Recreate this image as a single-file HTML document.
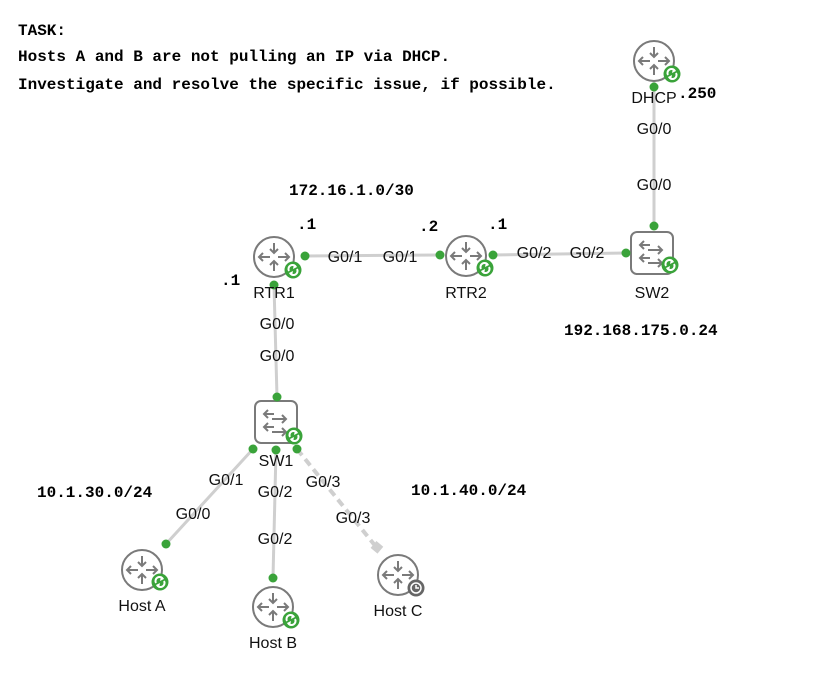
<!DOCTYPE html>
<html><head><meta charset="utf-8"><style>
body{margin:0;background:#fff;}
svg{display:block}
.m{font-family:"Liberation Mono",monospace;font-weight:bold;font-size:16px;fill:#000}
.s{font-family:"Liberation Sans",sans-serif;font-size:16px;fill:#111}
</style></head><body>
<svg width="839" height="686" viewBox="0 0 839 686" xmlns="http://www.w3.org/2000/svg">
<defs>
<g id="rt">
<circle r="20" fill="#fff" stroke="#7a7a7a" stroke-width="2"/>
<g stroke="#7a7a7a" stroke-width="2" fill="none">
<path d="M0,-14V-4M-4,-8L0,-4L4,-8"/>
<path d="M0,14V4M-4,8L0,4L4,8"/>
<path d="M-4,0H-15M-11,-4L-15,0L-11,4"/>
<path d="M4,0H15M11,-4L15,0L11,4"/>
</g>
</g>
<g id="sw">
<rect x="-21" y="-21" width="42" height="42" rx="6" fill="#fff" stroke="#7a7a7a" stroke-width="2"/>
<g stroke="#7a7a7a" stroke-width="2" fill="none">
<path d="M-12,-8H-2M-8,-12L-12,-8L-8,-4"/>
<path d="M-4,-3H10M6,-7L10,-3L6,1"/>
<path d="M-12,5H-2M-8,1L-12,5L-8,9"/>
<path d="M-4,10H10M6,6L10,10L6,14"/>
</g>
</g>
<g id="bg">
<circle r="8.5" fill="#3aa33a"/>
<path d="M-4,1A4,4 0 0 1 3,-3M4,-1A4,4 0 0 1 -3,3" stroke="#fff" stroke-width="2" fill="none"/>
<path d="M1,-6L4,-3L0,-1Z M-1,6L-4,3L0,1Z" fill="#fff"/>
</g>
</defs>
<text class="m" x="18" y="35">TASK:</text>
<text class="m" x="18" y="61">Hosts A and B are not pulling an IP via DHCP.</text>
<text class="m" x="18" y="89">Investigate and resolve the specific issue, if possible.</text>

<g stroke="#cfcfcf" stroke-width="3" fill="none">
<line x1="305" y1="256" x2="440" y2="255"/>
<line x1="493" y1="255" x2="626" y2="253"/>
<line x1="654" y1="80" x2="654" y2="226"/>
<line x1="274" y1="285" x2="277" y2="397"/>
<line x1="253" y1="449" x2="166" y2="544"/>
<line x1="276" y1="450" x2="273" y2="578"/>
<line x1="297" y1="449" x2="377" y2="548" stroke-dasharray="8,5" stroke-width="4"/>
</g>
<rect x="372" y="543" width="9" height="9" fill="#cfcfcf" transform="rotate(40 377 548)"/>

<use href="#rt" x="274" y="257"/><use href="#bg" x="293" y="270"/>
<use href="#rt" x="466" y="256"/><use href="#bg" x="485" y="268"/>
<use href="#sw" x="652" y="253"/><use href="#bg" x="670" y="265"/>
<use href="#rt" x="654" y="61"/><use href="#bg" x="672" y="74"/>
<use href="#sw" x="276" y="422"/><use href="#bg" x="294" y="436"/>
<use href="#rt" x="142" y="570"/><use href="#bg" x="160" y="582"/>
<use href="#rt" x="273" y="607"/><use href="#bg" x="291" y="620"/>
<use href="#rt" x="398" y="575"/>
<circle cx="416" cy="588" r="8.5" fill="#666"/><circle cx="416" cy="588" r="5" fill="none" stroke="#fff" stroke-width="1.5"/><path d="M416,585V588H419" stroke="#fff" stroke-width="1.5" fill="none"/>

<g fill="#3aa33a">
<circle cx="305" cy="256" r="4.5"/><circle cx="440" cy="255" r="4.5"/>
<circle cx="493" cy="255" r="4.5"/><circle cx="626" cy="253" r="4.5"/>
<circle cx="654" cy="87" r="4.5"/><circle cx="654" cy="226" r="4.5"/>
<circle cx="274" cy="285" r="4.5"/><circle cx="277" cy="397" r="4.5"/>
<circle cx="253" cy="449" r="4.5"/><circle cx="276" cy="450" r="4.5"/><circle cx="297" cy="449" r="4.5"/>
<circle cx="166" cy="544" r="4.5"/><circle cx="273" cy="578" r="4.5"/>
</g>

<text class="s" x="274" y="298" text-anchor="middle">RTR1</text>
<text class="s" x="466" y="298" text-anchor="middle">RTR2</text>
<text class="s" x="652" y="298" text-anchor="middle">SW2</text>
<text class="s" x="654" y="103" text-anchor="middle">DHCP</text>
<text class="s" x="276" y="466" text-anchor="middle">SW1</text>
<text class="s" x="142" y="611" text-anchor="middle">Host A</text>
<text class="s" x="273" y="648" text-anchor="middle">Host B</text>
<text class="s" x="398" y="616" text-anchor="middle">Host C</text>

<text class="s" x="345" y="262" text-anchor="middle">G0/1</text>
<text class="s" x="400" y="262" text-anchor="middle">G0/1</text>
<text class="s" x="534" y="258" text-anchor="middle">G0/2</text>
<text class="s" x="587" y="258" text-anchor="middle">G0/2</text>
<text class="s" x="654" y="134" text-anchor="middle">G0/0</text>
<text class="s" x="654" y="190" text-anchor="middle">G0/0</text>
<text class="s" x="277" y="329" text-anchor="middle">G0/0</text>
<text class="s" x="277" y="361" text-anchor="middle">G0/0</text>
<text class="s" x="226" y="485" text-anchor="middle">G0/1</text>
<text class="s" x="193" y="519" text-anchor="middle">G0/0</text>
<text class="s" x="275" y="497" text-anchor="middle">G0/2</text>
<text class="s" x="275" y="544" text-anchor="middle">G0/2</text>
<text class="s" x="323" y="487" text-anchor="middle">G0/3</text>
<text class="s" x="353" y="523" text-anchor="middle">G0/3</text>

<text class="m" x="289" y="195">172.16.1.0/30</text>
<text class="m" x="297" y="229">.1</text>
<text class="m" x="419" y="231">.2</text>
<text class="m" x="488" y="229">.1</text>
<text class="m" x="221" y="285">.1</text>
<text class="m" x="678" y="98">.250</text>
<text class="m" x="564" y="335">192.168.175.0.24</text>
<text class="m" x="37" y="497">10.1.30.0/24</text>
<text class="m" x="411" y="495">10.1.40.0/24</text>
</svg>
</body></html>
